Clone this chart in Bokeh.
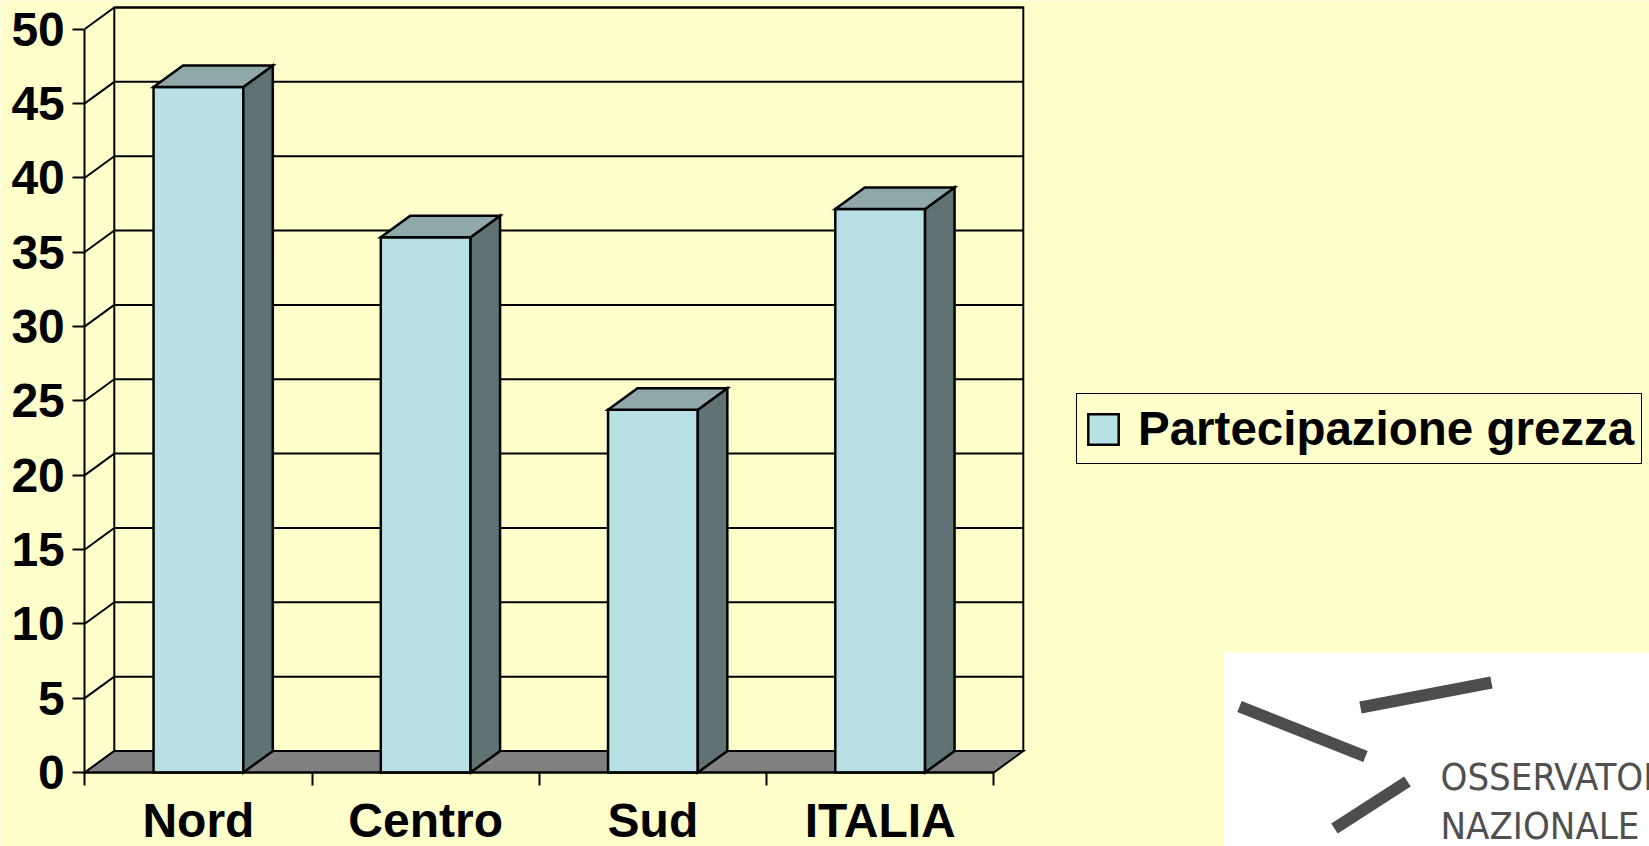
from bokeh.plotting import figure
from bokeh.models import Range1d, LinearAxis, FixedTicker, ColumnDataSource, Legend, LegendItem
from bokeh.embed import file_html
from bokeh.resources import INLINE
from bokeh.core.properties import value

# ---------------- data ----------------
categories = ["Nord", "Centro", "Sud", "ITALIA"]
partecipazione_grezza = [46.1, 36.0, 24.4, 37.9]
series_name = "Partecipazione grezza"
y_ticks = [0, 5, 10, 15, 20, 25, 30, 35, 40, 45, 50]
logo_lines = ["OSSERVATORIO", "NAZIONALE"]

# ---------------- style / layout ----------------
W, H = 1649, 846
BG = "#FFFFCC"
FRONT = "#B9E0E5"
SIDE = "#5F7274"
TOP = "#8FA9AB"
FLOOR = "#808080"
FONT = "Liberation Sans"
FS = "48px"

PX_CAT = 227.25      # pixels per category slot
PX_UNIT = 14.87      # pixels per value unit
OX = 84.3            # px from figure left to axis origin
OY = 74.0            # px from figure bottom to value 0
DX = 29.5 / PX_CAT   # depth offset (data units)
DY = 21.5 / PX_UNIT
BAR_W = 0.395

n = len(categories)
x0 = -0.5
ymax = y_ticks[-1]

x_range = Range1d(x0 - OX / PX_CAT, x0 + (W - OX) / PX_CAT)
y_range = Range1d(-OY / PX_UNIT, (H - OY) / PX_UNIT)


def sx(px):  # screen px -> data x
    return x0 + (px - OX) / PX_CAT


def sy(py):  # screen px (from top) -> data y
    return (H - py - OY) / PX_UNIT


p = figure(width=W, height=H, x_range=x_range, y_range=y_range,
           output_backend="svg", toolbar_location=None, min_border=0,
           x_axis_type=None, y_axis_type=None,
           background_fill_color=BG, border_fill_color=BG, outline_line_color=None)

LW = 2
# back wall
p.quad(left=[x0 + DX], right=[x0 + n + DX], bottom=[DY], top=[ymax + DY],
       fill_color=BG, line_color="black", line_width=LW, line_join="miter")
# back wall gridlines
gl = y_ticks[1:]
p.segment(x0=[x0 + DX] * len(gl), y0=[v + DY for v in gl],
          x1=[x0 + n + DX] * len(gl), y1=[v + DY for v in gl],
          line_color="black", line_width=LW)
# side wall diagonals
p.segment(x0=[x0] * len(y_ticks), y0=y_ticks,
          x1=[x0 + DX] * len(y_ticks), y1=[v + DY for v in y_ticks],
          line_color="black", line_width=LW)
# floor
p.patch(x=[x0, x0 + n, x0 + n + DX, x0 + DX], y=[0, 0, DY, DY],
        fill_color=FLOOR, line_color="black", line_width=LW, line_join="miter")

# bars
cx = list(range(n))
lefts = [c - BAR_W / 2 for c in cx]
rights = [c + BAR_W / 2 for c in cx]
front_src = ColumnDataSource(dict(left=lefts, right=rights, bottom=[0] * n, top=partecipazione_grezza))
side_src = ColumnDataSource(dict(
    xs=[[r, r + DX, r + DX, r] for r in rights],
    ys=[[0, DY, v + DY, v] for v in partecipazione_grezza]))
top_src = ColumnDataSource(dict(
    xs=[[l, r, r + DX, l + DX] for l, r in zip(lefts, rights)],
    ys=[[v, v, v + DY, v + DY] for v in partecipazione_grezza]))

BLW = 2.5
front = p.quad(left="left", right="right", bottom="bottom", top="top", source=front_src,
               fill_color=FRONT, line_color="black", line_width=BLW, line_join="miter")
p.patches(xs="xs", ys="ys", source=side_src, fill_color=SIDE, line_color="black",
          line_width=BLW, line_join="miter")
p.patches(xs="xs", ys="ys", source=top_src, fill_color=TOP, line_color="black",
          line_width=BLW, line_join="miter")

# axes
yaxis = LinearAxis(fixed_location=x0, ticker=FixedTicker(ticks=y_ticks), bounds=(0, ymax),
                   axis_line_width=2, major_tick_line_width=2,
                   major_tick_out=12, major_tick_in=0, minor_tick_out=0, minor_tick_in=0,
                   major_label_text_font=FONT, major_label_text_font_style="bold",
                   major_label_text_font_size=FS, major_label_text_color="black",
                   major_label_standoff=8)
p.add_layout(yaxis, "left")

xaxis = LinearAxis(fixed_location=0,
                   ticker=FixedTicker(ticks=cx, minor_ticks=[x0 + i for i in range(n + 1)]),
                   bounds=(x0, x0 + n),
                   axis_line_width=2, minor_tick_line_width=2, minor_tick_line_color="black",
                   major_tick_out=0, major_tick_in=0, minor_tick_out=13, minor_tick_in=0,
                   major_label_overrides={i: c for i, c in enumerate(categories)},
                   major_label_text_font=FONT, major_label_text_font_style="bold",
                   major_label_text_font_size=FS, major_label_text_color="black",
                   major_label_standoff=8)
p.add_layout(xaxis, "below")

# legend
legend = Legend(items=[LegendItem(label=series_name, renderers=[front])],
                location=(1076, 382), orientation="vertical",
                border_line_color="black", border_line_width=1.5, border_line_alpha=1.0,
                background_fill_color=BG, background_fill_alpha=1.0,
                padding=7, margin=0, spacing=0,
                glyph_width=38, glyph_height=38, label_standoff=16,
                label_text_font=FONT, label_text_font_style="bold",
                label_text_font_size="47.5px", label_text_color="black")
p.add_layout(legend)

# logo (decoration, bottom right)
p.quad(left=[sx(1223)], right=[sx(1700)], top=[sy(652)], bottom=[sy(900)],
       fill_color="white", line_color=None)
p.segment(x0=[sx(1239), sx(1360), sx(1334)], y0=[sy(706), sy(707), sy(828)],
          x1=[sx(1365), sx(1491), sx(1407)], y1=[sy(756), sy(682), sy(781)],
          line_color="#4D4D4D", line_width=12, line_cap="butt")
p.text(x=[sx(1440)] * 2, y=[sy(776), sy(825)], text=logo_lines,
       text_font=value("'Liberation Sans Narrow', 'DejaVu Sans Condensed', Roboto, sans-serif"),
       text_font_size="38px", text_color="#505050", text_baseline="middle", text_align="left")

html = file_html(p, INLINE)
html = html.replace("<body>", '<body style="background:#FFFFCC">', 1)
open("out.html", "w").write(html)
